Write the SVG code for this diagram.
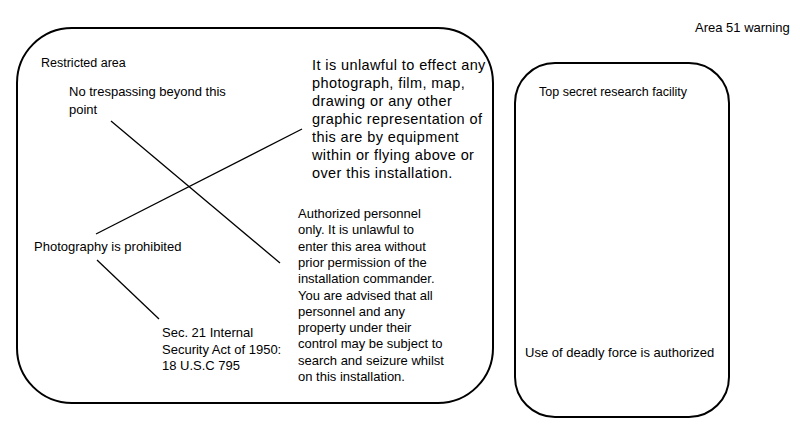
<svg xmlns="http://www.w3.org/2000/svg" width="800" height="426" viewBox="0 0 800 426">
<style>
text{font-family:"Liberation Sans",Arial,sans-serif;font-size:13px;fill:#000}
.box{fill:#fff;stroke:#000;stroke-width:2}
.sm{font-size:12.5px}
.big{font-size:14.5px;letter-spacing:0.4px}
.link{stroke:#000;stroke-width:1.3;fill:none}
</style>
<rect width="800" height="426" fill="#fff"/>
<g id="title"><text x="695" y="32">Area 51 warning</text></g>
<g id="restricted-area">
<rect class="box" x="17" y="28" width="476" height="375" rx="55" ry="55"/>
<text class="sm" x="41" y="67">Restricted area</text>
</g>
<g id="top-secret">
<rect class="box" x="515" y="63" width="214" height="354" rx="40" ry="40"/>
<text class="sm" x="539" y="96">Top secret research facility</text>
</g>
<g id="deadly-force"><text x="525" y="357">Use of deadly force is authorized</text></g>
<g id="no-trespassing"><text x="69" y="96">No trespassing beyond this</text><text x="69" y="114">point</text></g>
<g id="unlawful-photo">
<text class="big" x="312" y="70">It is unlawful to effect any</text>
<text class="big" x="312" y="88">photograph, film, map,</text>
<text class="big" x="312" y="106">drawing or any other</text>
<text class="big" x="312" y="124">graphic representation of</text>
<text class="big" x="312" y="142">this are by equipment</text>
<text class="big" x="312" y="160">within or flying above or</text>
<text class="big" x="312" y="178">over this installation.</text>
</g>
<g id="authorized">
<text x="298" y="218">Authorized personnel</text>
<text x="298" y="234.3">only. It is unlawful to</text>
<text x="298" y="250.6">enter this area without</text>
<text x="298" y="266.9">prior permission of the</text>
<text x="298" y="283.2">installation commander.</text>
<text x="298" y="299.5">You are advised that all</text>
<text x="298" y="315.8">personnel and any</text>
<text x="298" y="332.1">property under their</text>
<text x="298" y="348.4">control may be subject to</text>
<text x="298" y="364.7">search and seizure whilst</text>
<text x="298" y="381">on this installation.</text>
</g>
<g id="photography"><text x="34" y="251">Photography is prohibited</text></g>
<g id="security-act">
<text x="162" y="337">Sec. 21 Internal</text>
<text x="162" y="353.7">Security Act of 1950:</text>
<text x="162" y="370.4">18 U.S.C 795</text>
</g>
<g id="connectors">
<line class="link" x1="111" y1="121" x2="280" y2="263"/>
<line class="link" x1="96" y1="234" x2="302" y2="129"/>
<line class="link" x1="97" y1="260" x2="159" y2="319"/>
</g>
</svg>
